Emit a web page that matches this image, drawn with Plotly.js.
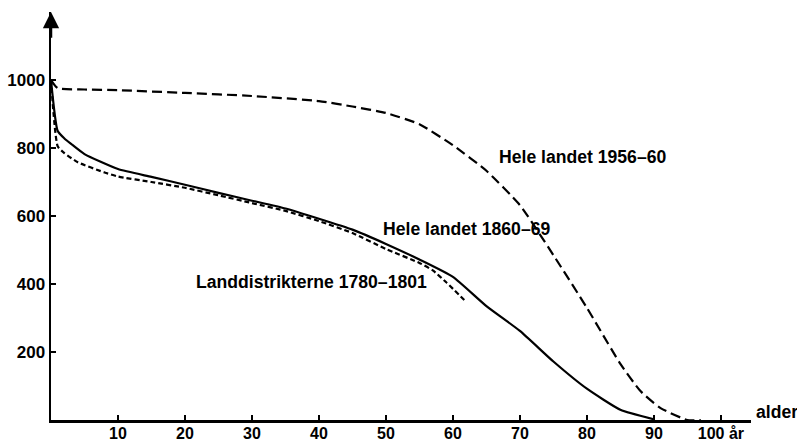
<!DOCTYPE html>
<html>
<head>
<meta charset="utf-8">
<script src="https://cdn.plot.ly/plotly-3.0.1.min.js"></script>
<style>
html,body{margin:0;padding:0;background:#fff;}
#chart{width:797px;height:443px;}
</style>
</head>
<body>
<div id="chart"></div>
<script>
// Survivors per 1000 born, by age
const age1956 = [0, 1, 5, 10, 20, 30, 40, 45, 50, 55, 60, 65, 70, 75, 80, 85, 88, 91, 95, 97];
const val1956 = [1000, 976, 972, 970, 962, 953, 938, 922, 903, 870, 808, 733, 632, 485, 330, 165, 85, 35, 0, 0];

const age1860 = [0, 1, 2, 3, 5, 10, 15, 20, 25, 30, 35, 40, 45, 50, 55, 60, 65, 70, 75, 80, 85, 90];
const val1860 = [1000, 850, 828, 812, 782, 738, 715, 692, 668, 645, 622, 592, 560, 518, 472, 421, 335, 262, 172, 92, 30, 2];

const age1780 = [0, 1, 2, 4, 8, 10, 15, 20, 25, 30, 35, 40, 45, 50, 55, 57, 59, 62];
const val1780 = [1000, 805, 785, 758, 728, 716, 700, 683, 661, 638, 615, 585, 550, 503, 462, 440, 405, 347];

const xTickVals = [10, 20, 30, 40, 50, 60, 70, 80, 90, 100];
const xTickText = ['10', '20', '30', '40', '50', '60', '70', '80', '90', '100 år'];
const yTickVals = [200, 400, 600, 800, 1000];
const yTickText = ['200', '400', '600', '800', '1000'];

const labels = ['Hele landet 1956–60', 'Hele landet 1860–69', 'Landdistrikterne 1780–1801'];
const labelX = [66.6, 49.3, 21.3];
const labelY = [773, 562, 406];

const FONT = 'Liberation Sans, Arial, Helvetica, sans-serif';

const traces = [
  {x: age1956, y: val1956, mode: 'lines', line: {color: '#000', width: 2.2, dash: '10px,5px', shape: 'spline', smoothing: 0.5}, name: labels[0]},
  {x: age1860, y: val1860, mode: 'lines', line: {color: '#000', width: 2.2, shape: 'spline', smoothing: 0.5}, name: labels[1]},
  {x: age1780, y: val1780, mode: 'lines', line: {color: '#000', width: 2.2, dash: '5px,3px', shape: 'spline', smoothing: 0.5}, name: labels[2]}
];

const annotations = labels.map((t, i) => ({
  x: labelX[i], y: labelY[i], xref: 'x', yref: 'y', text: t, showarrow: false,
  xanchor: 'left', yanchor: 'middle', font: {family: FONT, size: 17.6, color: '#000', weight: 'bold'}
}));
annotations.push({
  x: 1.005, y: 0.02, xref: 'paper', yref: 'paper', text: 'alder', showarrow: false,
  xanchor: 'left', yanchor: 'middle', font: {family: FONT, size: 17.6, color: '#000', weight: 'bold'}
});
annotations.push({
  x: 0, y: 1200, xref: 'x', yref: 'y', ax: 0, ay: 1120, axref: 'x', ayref: 'y',
  text: '', showarrow: true, arrowhead: 2, arrowsize: 1.3, arrowwidth: 2.5, arrowcolor: '#000'
});

const layout = {
  width: 797, height: 443,
  margin: {l: 51, r: 46, t: 12, b: 23},
  paper_bgcolor: '#fff', plot_bgcolor: '#fff',
  showlegend: false,
  font: {family: FONT, color: '#000'},
  xaxis: {
    range: [0, 104.5], showgrid: false, zeroline: false,
    showline: true, linecolor: '#000', linewidth: 2.5,
    ticks: 'inside', ticklen: 5, tickwidth: 2, tickcolor: '#000',
    tickmode: 'array', tickvals: xTickVals, ticktext: xTickText,
    ticklabelstandoff: -3,
    tickfont: {family: FONT, size: 16, color: '#000', weight: 'bold'}
  },
  yaxis: {
    range: [0, 1200], showgrid: false, zeroline: false,
    showline: true, linecolor: '#000', linewidth: 2.5,
    ticks: 'inside', ticklen: 5, tickwidth: 2, tickcolor: '#000',
    tickmode: 'array', tickvals: yTickVals, ticktext: yTickText,
    tickfont: {family: FONT, size: 17, color: '#000', weight: 'bold'}
  },
  annotations: annotations
};

Plotly.newPlot('chart', traces, layout, {staticPlot: true, displayModeBar: false});
</script>
</body>
</html>
